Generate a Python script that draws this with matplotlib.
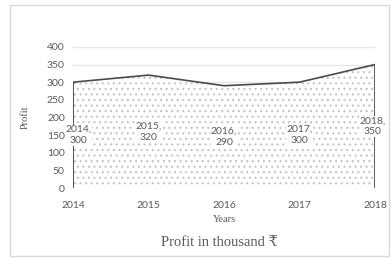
import matplotlib.pyplot as plt
from matplotlib.patches import Rectangle

years = [2014, 2015, 2016, 2017, 2018]
profit = [300, 320, 290, 300, 350]

text_gray = "#595959"
serif = ["Liberation Serif", "DejaVu Serif", "DejaVu Sans"]
plt.rcParams["hatch.color"] = "#c4c4c4"
plt.rcParams["hatch.linewidth"] = 0.8

fig = plt.figure(figsize=(3.91, 2.59), dpi=100)
ax = fig.add_axes([0.187, 0.274, 0.772, 0.545])

# outer frame
fig.patches.append(Rectangle((0.026, 0.01), 0.97, 0.97, transform=fig.transFigure,
                             fill=False, edgecolor="#d9d9d9", linewidth=1))

ax.fill_between(years, profit, 0, facecolor="white", hatch="...",
                edgecolor="#c4c4c4", linewidth=0, zorder=2)
ax.plot([years[0]] + years + [years[-1]], [0] + profit + [0],
        color="#4a4a4a", linewidth=1.2, zorder=3)

for i, (x, y) in enumerate(zip(years, profit)):
    # end labels are nudged inwards, as in the original
    dx = 4 if i == 0 else (-2 if i == len(years) - 1 else 0)
    ax.annotate(f"{x},\n{y}", (x, y / 2), xytext=(dx, 0), textcoords="offset points",
                ha="center", va="center", fontsize=7.5, color=text_gray,
                family="Lato", zorder=4, linespacing=1.3,
                bbox=dict(facecolor="white", edgecolor="none", pad=0.3))

ax.set_xlim(2014, 2018)
ax.set_ylim(0, 400)
ax.set_xticks(years)
ax.set_yticks(range(0, 401, 50))
ax.grid(axis="y", color="#e6e6e6", linewidth=1, zorder=0)
ax.set_axisbelow(True)
for s in ax.spines.values():
    s.set_visible(False)
ax.tick_params(length=0, labelsize=7.5, labelcolor=text_gray)
ax.tick_params(axis="x", pad=9)
ax.tick_params(axis="y", pad=6)
for lab in ax.get_xticklabels() + ax.get_yticklabels():
    lab.set_family("Lato")

ax.set_xlabel("Years", family=serif, fontsize=7.5, color=text_gray, labelpad=4)
ax.set_ylabel("Profit", family=serif, fontsize=7.5, color=text_gray, labelpad=12)
fig.text(0.56, 0.065, "Profit in thousand ₹", family=serif, fontsize=10.5,
         color=text_gray, ha="center", va="center")

fig.savefig("out.png", dpi=100)
